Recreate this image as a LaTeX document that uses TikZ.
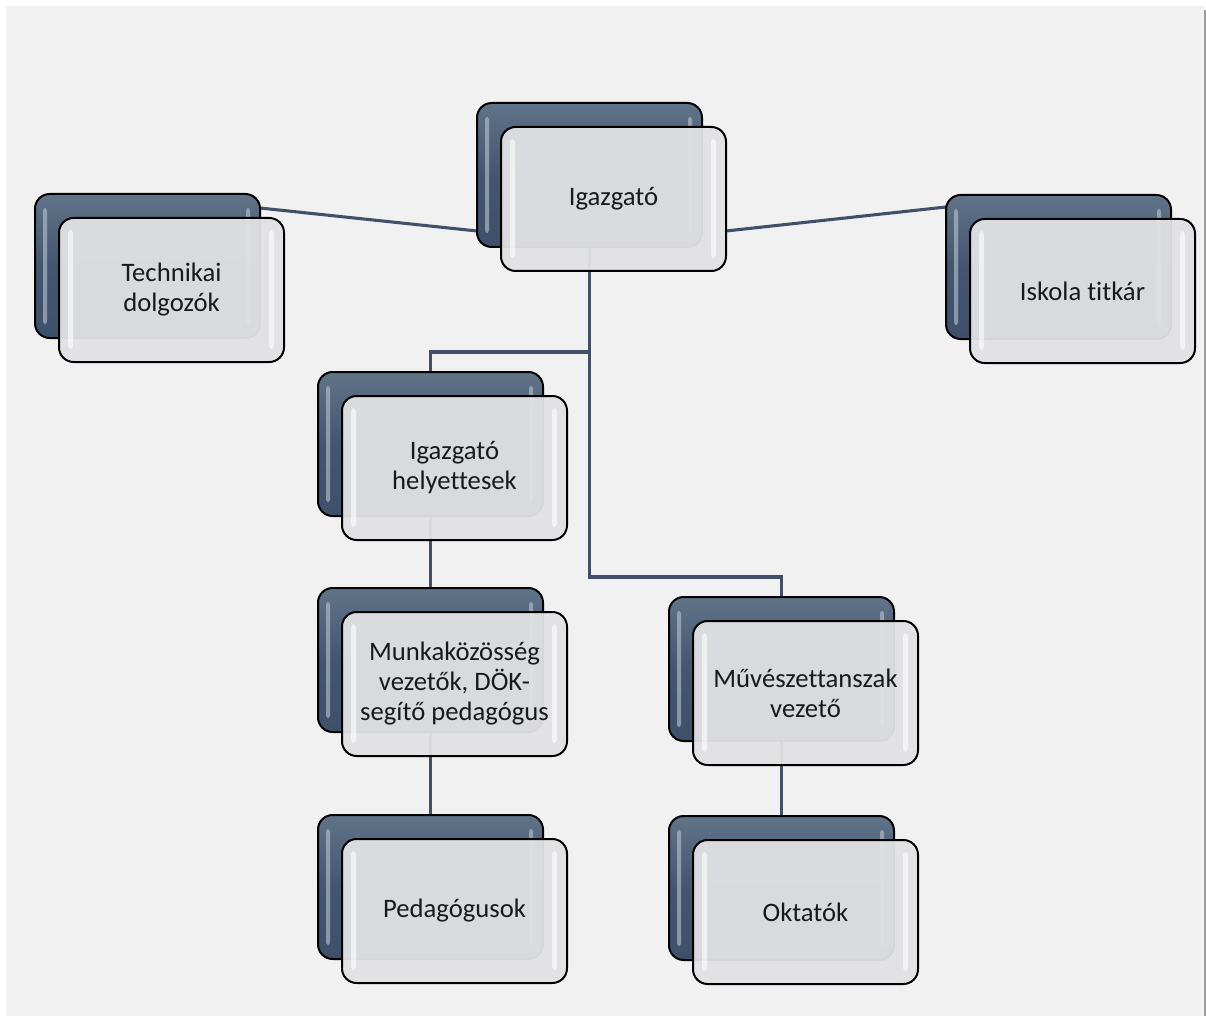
\documentclass[tikz,border=0pt]{standalone}
\usepackage{fontspec}
\setmainfont{Carlito}[Ligatures=NoCommon]
\usetikzlibrary{calc}
\definecolor{bgc}{HTML}{F1F1F1}
\definecolor{linec}{HTML}{434F66}
\definecolor{navytop}{HTML}{617389}
\definecolor{navybot}{HTML}{3F516A}
\definecolor{frontc}{HTML}{E2E2E4}
\definecolor{stripback}{HTML}{B9C5D3}
\definecolor{edgec}{HTML}{9C9C9C}
\pgfdeclarelayer{bg}
\pgfsetlayers{bg,main}
\tikzset{
  backbox/.style={draw=black, line width=1.5pt, rounded corners=11pt,
    top color=navytop, bottom color=navybot, middle color=navybot!85!navytop,
    minimum width=168.75pt, minimum height=108pt, inner sep=0pt, outer sep=0pt, anchor=north west},
  frontbox/.style={draw=black, line width=1.5pt, rounded corners=11pt,
    fill=frontc, fill opacity=0.95, text opacity=1,
    minimum width=168.75pt, minimum height=108pt, inner sep=0pt, outer sep=0pt, anchor=north west,
    align=center, text=black!90, font=\fontsize{20}{22.5}\selectfont},
  backstrip/.style={fill=stripback, fill opacity=0.6, rounded corners=2pt},
  frontstrip/.style={fill=white, fill opacity=0.6, rounded corners=2.5pt},
  conn/.style={draw=linec, line width=2.3pt}
}
\newcommand\orgunit[4]{%
  \node[backbox] (#1b) at (#2,#3) {};
  \fill[backstrip] ($(#1b.north west)+(8,14)$) rectangle ($(#1b.south west)+(12,-14)$);
  \fill[backstrip] ($(#1b.north east)+(-14,14)$) rectangle ($(#1b.south east)+(-10,-14)$);
  \node[frontbox] (#1) at ($(#1b.north west)+(24,24)$) {#4};
  \fill[frontstrip] ($(#1.north west)+(9,12)$) rectangle ($(#1.south west)+(14,-13)$);
  \fill[frontstrip] ($(#1.north east)+(-15,12)$) rectangle ($(#1.south east)+(-10,-13)$);
}
\begin{document}
\begin{tikzpicture}[x=0.75pt,y=-0.75pt]
\useasboundingbox (0,0) rectangle (1206,1016);
\begin{pgfonlayer}{bg}
  \fill[white] (0,0) rectangle (1206,1016);
  \fill[bgc] (6,6) rectangle (1204,1016);
  \draw[edgec, line width=1.5pt] (1205,10) -- (1205,1016);
\end{pgfonlayer}

\orgunit{I}{477}{103}{Igazgató}
\orgunit{T}{35}{194}{Technikai\\dolgozók}
\orgunit{S}{946}{195}{Iskola titkár}
\orgunit{H}{318}{372}{Igazgató\\helyettesek}
\orgunit{M}{318}{588}{Munkaközösség\\vezetők, DÖK-\\segítő pedagógus}
\orgunit{V}{669}{597}{Művészettanszak\\vezető}
\orgunit{P}{318}{815}{Pedagógusok}
\orgunit{O}{669}{816}{Oktatók}

\begin{pgfonlayer}{bg}
  \draw[conn] ($(Tb.north east)+(0,14)$) -- ($(Ib.south west)+(0,-16)$);
  \draw[conn] ($(I.north east)+(0,104)$) -- ($(Sb.north west)+(0,12)$);
  \draw[conn] (Ib.south) -- ++(0,105) -| (Hb.north);
  \draw[conn] (Ib.south) -- ++(0,330) -| (Vb.north);
  \draw[conn] (Hb.south) -- (Mb.north);
  \draw[conn] (Mb.south) -- (Pb.north);
  \draw[conn] (Vb.south) -- (Ob.north);
\end{pgfonlayer}
\end{tikzpicture}
\end{document}
